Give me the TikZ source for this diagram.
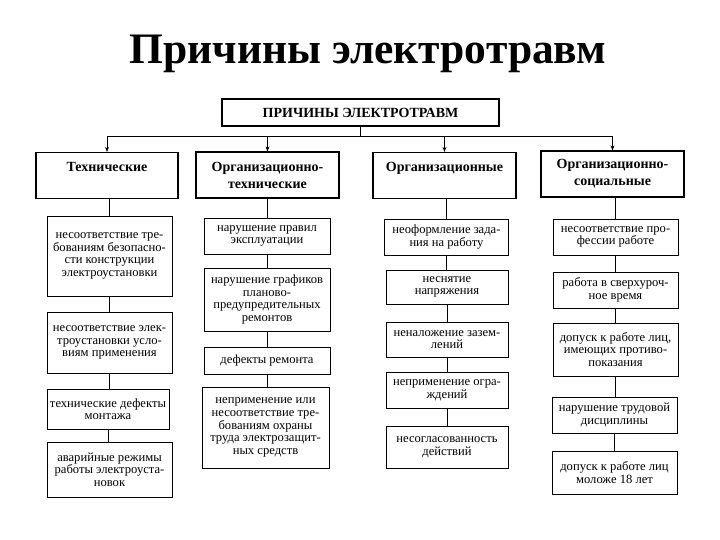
\documentclass[tikz,border=0pt]{standalone}
\usepackage{fontspec}
\setmainfont{Liberation Serif}
\usetikzlibrary{positioning, arrows.meta, calc}
\tikzset{
  headbox/.style={rectangle, draw=black, line width=1.1pt, minimum height=46pt, text centered, align=center, font=\fontsize{14}{17}\selectfont\bfseries, inner sep=2pt},
  cause/.style={rectangle, draw=black, line width=0.9pt, text centered, align=center, font=\fontsize{12.6}{12.6}\selectfont, inner sep=1pt},
  link/.style={line width=0.9pt},
  arrow/.style={line width=0.9pt, -{Stealth[length=5pt, width=4pt]}}
}
\begin{document}
\begin{tikzpicture}[x=1pt, y=-1pt]
    \useasboundingbox (0,0) rectangle (720,540);

    \node (title) at (368,54) {\fontsize{43.5}{48}\selectfont\bfseries Причины электротравм};
    \node (root) [rectangle, draw=black, line width=1.1pt, minimum width=277pt, minimum height=27pt, font=\fontsize{14}{15}\selectfont\bfseries] at (360.5,112.5) {ПРИЧИНЫ ЭЛЕКТРОТРАВМ};

    % headers
    \node (tech) [headbox, minimum width=142pt] at (107,175.5) {Технические\\\mbox{}};
    \node (orgtech) [headbox, minimum width=143pt] at (267.5,175) {Организационно-\\технические};
    \node (org) [headbox, minimum width=143pt] at (444.5,175.5) {Организационные\\\mbox{}};
    \node (orgsoc) [headbox, minimum width=143pt] at (612.5,174) {Организационно-\\социальные};

    \coordinate (bus) at (360,136);
    \draw [link] (root.south) -- (root.south |- bus);
    \draw [link] (tech.north |- bus) -- (orgsoc.north |- bus);
    \foreach \h in {tech, orgtech, org, orgsoc}
        \draw [arrow] (\h.north |- bus) -- (\h.north);

    % technical
    \node (t1) [cause, minimum width=125pt, minimum height=80pt] at (109.5,256) {несоответствие тре-\\бованиям безопасно-\\сти конструкции\\электроустановки};
    \node (t2) [cause, minimum width=125pt, minimum height=61pt] at (109.5,342.5) {несоответствие элек-\\троустановки усло-\\виям применения};
    \node (t3) [cause, minimum width=122pt, minimum height=40pt] at (108,409) {технические дефекты\\монтажа};
    \node (t4) [cause, minimum width=125pt, minimum height=55pt] at (109.5,469.5) {аварийные режимы\\работы электроуста-\\новок};

    % organizational-technical
    \node (ot1) [cause, minimum width=126pt, minimum height=36pt] at (267,236) {нарушение правил\\эксплуатации};
    \node (ot2) [cause, minimum width=126pt, minimum height=63pt] at (267,299.5) {нарушение графиков\\планово-\\предупредительных\\ремонтов};
    \node (ot3) [cause, minimum width=126pt, minimum height=27pt] at (267,360.5) {дефекты ремонта};
    \node (ot4) [cause, minimum width=127pt, minimum height=81pt] at (265.5,427.5) {неприменение или\\несоответствие тре-\\бованиям охраны\\труда электрозащит-\\ных средств};

    % organizational
    \node (o1) [cause, minimum width=124pt, minimum height=36pt] at (446.5,237) {неоформление зада-\\ния на работу};
    \node (o2) [cause, minimum width=122pt, minimum height=34pt] at (447,287) {неснятие\\напряжения};
    \node (o3) [cause, minimum width=122pt, minimum height=35pt] at (447,339.5) {неналожение зазем-\\лений};
    \node (o4) [cause, minimum width=122pt, minimum height=36pt] at (447,390) {неприменение огра-\\ждений};
    \node (o5) [cause, minimum width=122pt, minimum height=42pt] at (447,447) {несогласованность\\действий};

    % organizational-social
    \node (s1) [cause, minimum width=125pt, minimum height=36pt] at (615.5,237) {несоответствие про-\\фессии работе};
    \node (s2) [cause, minimum width=125pt, minimum height=36pt] at (615.5,290) {работа в сверхуроч-\\ное время};
    \node (s3) [cause, minimum width=125pt, minimum height=53pt] at (615.5,349.5) {допуск к работе лиц,\\имеющих противо-\\показания};
    \node (s4) [cause, minimum width=125pt, minimum height=36pt] at (614.5,415) {нарушение трудовой\\дисциплины};
    \node (s5) [cause, minimum width=125pt, minimum height=43pt] at (614.5,472.5) {допуск к работе лиц\\моложе 18 лет};

    \draw [link] (tech.south -| t1.north) -- (t1.north);
    \draw [link] (t1) -- (t2);
    \draw [link] (t2.south) -- (t2.south |- t3.north);
    \draw [link] (t3.south) -- (t3.south |- t4.north);

    \draw [link] (orgtech.south -| ot1.north) -- (ot1.north);
    \draw [link] (ot1) -- (ot2);
    \draw [link] (ot2) -- (ot3);
    \draw [link] (ot3.south) -- (ot3.south |- ot4.north);

    \draw [link] (org.south -| o1.north) -- (o1.north);
    \draw [link] (o1.south) -- (o1.south |- o2.north);
    \draw [link] (o2) -- (o3);
    \draw [link] (o3) -- (o4);
    \draw [link] (o4) -- (o5);

    \draw [link] (orgsoc.south -| s1.north) -- (s1.north);
    \draw [link] (s1) -- (s2);
    \draw [link] (s2) -- (s3);
    \draw [link] (s3.south) -- (s3.south |- s4.north);
    \draw [link] (s4) -- (s5);
\end{tikzpicture}
\end{document}
